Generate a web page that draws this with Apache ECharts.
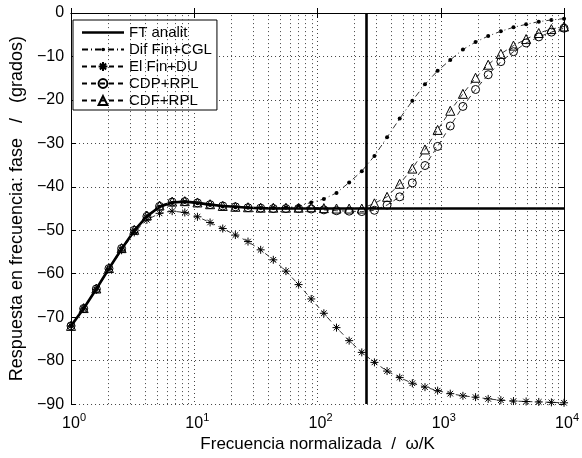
<!DOCTYPE html>
<html>
<head>
<meta charset="utf-8">
<script src="https://cdn.jsdelivr.net/npm/echarts@6/dist/echarts.min.js"></script>
<style>html,body{margin:0;padding:0;background:#fff}#c{width:582px;height:458px}</style>
</head>
<body>
<div id="c"></div>
<script>
// Normalized frequency (omega/K), 40 log-spaced samples from 1 to 1e4
const omega = [1, 1.2663, 1.6036, 2.0309, 2.5719, 3.2570, 4.1246, 5.2233, 6.6148, 8.3768,
  10.608, 13.434, 17.013, 21.544, 27.283, 34.551, 43.755, 55.410, 70.170, 88.862,
  112.53, 142.51, 180.47, 228.54, 289.42, 366.52, 464.16, 587.80, 744.37, 942.67,
  1193.8, 1511.8, 1914.5, 2424.5, 3070.4, 3888.3, 4924.1, 6235.8, 7896.9, 10000];

const ftAnalit = [-72.0,-68.0,-63.5,-58.8,-54.3,-50.1,-46.8,-44.6,-43.6,-43.4,
  -43.7,-44.1,-44.4,-44.6,-44.8,-44.9,-45.0,-45.0,-45.0,-45.0,
  -45.0,-45.0,-45.0,-45.0,-45.0,-45.0,-45.0,-45.0,-45.0,-45.0,
  -45.0,-45.0,-45.0,-45.0,-45.0,-45.0,-45.0,-45.0,-45.0,-45.0];
const ftCutoff = 250;

const difFinCGL = [-72.0,-68.0,-63.5,-58.8,-54.2,-50.0,-46.8,-44.6,-43.7,-43.5,
  -43.8,-44.2,-44.5,-44.7,-44.8,-44.9,-44.9,-44.8,-44.4,-43.6,
  -42.8,-41.4,-39.0,-36.4,-32.9,-28.6,-24.3,-20.2,-16.4,-13.3,
  -10.8,-8.4,-6.7,-5.3,-4.2,-3.3,-2.6,-2.0,-1.6,-1.3];

const elFinDU = [-72.0,-68.1,-63.7,-59.0,-54.6,-50.5,-47.6,-46.1,-45.6,-45.9,
  -46.9,-48.2,-49.6,-51.1,-52.6,-54.5,-56.8,-59.4,-62.5,-65.8,
  -69.1,-72.4,-75.4,-78.1,-80.4,-82.4,-83.9,-85.2,-86.1,-86.9,
  -87.6,-88.1,-88.4,-88.8,-89.1,-89.3,-89.4,-89.5,-89.6,-89.7];

const cdpRPL = [-72.0,-68.0,-63.5,-58.8,-54.2,-50.0,-46.8,-44.5,-43.5,-43.4,
  -43.7,-44.1,-44.4,-44.6,-44.8,-44.9,-45.0,-45.0,-45.0,-45.1,
  -45.3,-45.5,-45.6,-45.7,-45.4,-44.2,-42.3,-39.1,-35.1,-30.7,
  -26.0,-21.5,-17.6,-14.2,-11.2,-8.9,-6.9,-5.5,-4.4,-3.5];

const cdfRPL = [-72.0,-67.9,-63.4,-58.7,-54.1,-49.9,-46.6,-44.3,-43.4,-43.3,
  -43.6,-44.0,-44.4,-44.6,-44.7,-44.8,-44.8,-44.8,-44.8,-44.7,
  -44.9,-45.0,-45.0,-45.0,-43.8,-42.3,-39.3,-35.8,-31.4,-26.9,
  -22.5,-18.6,-14.9,-11.9,-9.4,-7.5,-6.0,-4.6,-3.7,-3.1];

const seriesNames = ['FT analit', 'Dif Fin+CGL', 'El Fin+DU', 'CDP+RPL', 'CDF+RPL'];
const decades = [1, 10, 100, 1000];
const minorMultipliers = [2, 3, 4, 5, 6, 7, 8, 9];

function pairs(ys) { return ys.map((y, i) => [omega[i], y]); }

const FONT = 'Liberation Sans, Arial, Helvetica, sans-serif';
const gridDots = { color: '#444', width: 1, type: [1, 3] };

const minorLines = [];
decades.forEach(d => minorMultipliers.forEach(m => minorLines.push({ xAxis: d * m })));

const starPath = 'path://M5,0L5,10M0,5L10,5M1.5,1.5L8.5,8.5M1.5,8.5L8.5,1.5';
// small dot inside a 10x10 box (moveTo corners define the box)
const dotPath = 'path://M0,0M10,10M3,5A2,2,0,1,0,7,5A2,2,0,1,0,3,5Z';
const thickLineIcon = 'path://M0,0M42,11M0,4.2L42,4.2L42,6.8L0,6.8Z';

const chart = echarts.init(document.getElementById('c'), null, { renderer: 'canvas' });
chart.setOption({
  animation: false,
  backgroundColor: '#fff',
  textStyle: { fontFamily: FONT },
  grid: { left: 66, right: 15, top: 13, bottom: 51, containLabel: false },
  legend: {
    data: [{ name: seriesNames[0], icon: thickLineIcon }, seriesNames[1], seriesNames[2], seriesNames[3], seriesNames[4]],
    orient: 'vertical',
    left: 73, top: 20,
    padding: [5, 5, 2, 8],
    itemWidth: 42, itemHeight: 11, itemGap: 2,
    backgroundColor: '#fff',
    borderColor: '#000', borderWidth: 1, borderRadius: 0,
    textStyle: { fontSize: 15, lineHeight: 14, color: '#000', fontFamily: FONT }
  },
  xAxis: [{
    type: 'log', logBase: 10, min: 1, max: 10000,
    name: 'Frecuencia normalizada  /  ω/K', nameLocation: 'middle', nameGap: 26,
    nameTextStyle: { fontSize: 17, color: '#000', fontFamily: FONT },
    axisLine: { lineStyle: { color: '#000', width: 1 } },
    axisTick: { inside: true, length: 5, lineStyle: { color: '#000' } },
    axisLabel: {
      margin: 5, color: '#000',
      formatter: v => '{b|10}{s|' + Math.round(Math.log10(v)) + '}',
      rich: { b: { fontSize: 16, fontFamily: FONT, color: '#000', padding: [6, 0, 0, 6] },
              s: { fontSize: 11, fontFamily: FONT, color: '#000', padding: [0, 0, 5, 0] } }
    },
    splitLine: { show: true, lineStyle: gridDots }
  }, {
    type: 'log', logBase: 10, min: 1, max: 10000, position: 'top',
    axisLine: { lineStyle: { color: '#000', width: 1 } },
    axisTick: { inside: true, length: 5, lineStyle: { color: '#000' } },
    axisLabel: { show: false }, splitLine: { show: false }
  }],
  yAxis: [{
    type: 'value', min: -90, max: 0, interval: 10,
    name: 'Respuesta en frecuencia: fase   /   (grados)', nameLocation: 'middle', nameGap: 37, nameRotate: 90,
    nameTextStyle: { fontSize: 18, color: '#000', fontFamily: FONT },
    axisLine: { show: true, lineStyle: { color: '#000', width: 1 } },
    axisTick: { show: true, inside: true, length: 5, lineStyle: { color: '#000' } },
    axisLabel: { fontSize: 16, color: '#000', margin: 7, formatter: v => v < 0 ? '\u2212' + Math.abs(v) : String(v) },
    splitLine: { show: true, lineStyle: gridDots }
  }, {
    type: 'value', min: -90, max: 0, interval: 10, position: 'right',
    axisLine: { show: true, lineStyle: { color: '#000', width: 1 } },
    axisTick: { show: true, inside: true, length: 5, lineStyle: { color: '#000' } },
    axisLabel: { show: false }, splitLine: { show: false }
  }],
  series: [
    {
      name: 'grid-minor', type: 'line', data: [], silent: true, z: 1,
      markLine: { silent: true, symbol: 'none', label: { show: false },
        lineStyle: { color: '#444', width: 1, type: [1, 3] }, data: minorLines }
    },
    {
      name: seriesNames[0], type: 'line', data: pairs(ftAnalit), showSymbol: false, symbol: 'none', z: 3,
      lineStyle: { color: '#000', width: 2.6, type: 'solid' }, itemStyle: { color: '#000' },
      markLine: { silent: true, symbol: 'none', label: { show: false },
        lineStyle: { color: '#000', width: 2.6, type: 'solid' }, data: [{ xAxis: ftCutoff }] }
    },
    {
      name: seriesNames[1], type: 'line', data: pairs(difFinCGL), symbol: dotPath, symbolSize: 10, z: 4,
      lineStyle: { color: '#000', width: 0.8, type: [6, 3, 1, 3] }, itemStyle: { color: '#000' }
    },
    {
      name: seriesNames[2], type: 'line', data: pairs(elFinDU), symbol: starPath, symbolSize: 8, z: 4,
      lineStyle: { color: '#000', width: 0.8, type: [5, 4] },
      itemStyle: { color: 'transparent', borderColor: '#000', borderWidth: 1 }
    },
    {
      name: seriesNames[3], type: 'line', data: pairs(cdpRPL), symbol: 'circle', symbolSize: 8, z: 4,
      lineStyle: { color: '#000', width: 0.8, type: [5, 4] },
      itemStyle: { color: 'transparent', borderColor: '#000', borderWidth: 1 }
    },
    {
      name: seriesNames[4], type: 'line', data: pairs(cdfRPL), symbol: 'triangle', symbolSize: 9, z: 4,
      lineStyle: { color: '#000', width: 0.8, type: [5, 4] },
      itemStyle: { color: 'transparent', borderColor: '#000', borderWidth: 1 }
    }
  ]
});
</script>
</body>
</html>
